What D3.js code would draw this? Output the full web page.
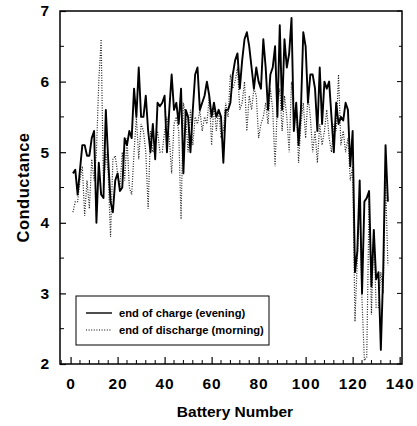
<!DOCTYPE html>
<html>
<head>
<meta charset="utf-8">
<script src="https://cdn.jsdelivr.net/npm/d3@7"></script>
<style>
  body { margin: 0; background: #fff; }
  text { font-family: "Liberation Sans", Arial, sans-serif; font-weight: bold; fill: #000; }
</style>
</head>
<body>
<div id="chart"></div>
<script>
// battery numbers 1..135
var batteries = d3.range(1, 136);

// end of charge (evening)
var chargeValues = [
  4.7, 4.75, 4.4, 4.75, 5.1, 5.1, 4.95, 4.95, 5.2, 5.3,
  4.0, 4.85, 4.4, 4.35, 5.6, 4.9, 4.3, 4.15, 4.6, 4.7,
  4.45, 4.5, 5.2, 5.1, 5.3, 5.2, 5.9, 5.5, 6.2, 5.5,
  5.5, 5.8, 5.3, 5.0, 5.4, 4.9, 5.7, 5.65, 5.7, 5.8,
  5.0, 5.6, 6.1, 5.6, 5.7, 5.4, 5.9, 4.7, 5.6, 5.5,
  5.0, 5.6, 6.1, 6.2, 5.6, 5.7, 5.8, 6.0, 5.8, 5.5,
  5.7, 5.5, 5.6, 5.5, 4.85, 5.6, 5.6, 5.7, 6.1, 6.3,
  6.4, 5.9, 6.3, 6.6, 6.7, 6.5, 6.2, 5.9, 6.2, 6.0,
  5.9, 6.6, 6.2, 5.6, 6.1, 6.2, 6.5, 5.5, 6.8, 5.6,
  6.6, 6.2, 6.4, 6.9, 5.3, 5.7, 5.1, 5.6, 6.7, 6.5,
  5.7, 6.1, 6.1, 5.9, 5.3, 6.2, 5.4, 6.0, 5.9, 6.0,
  5.5, 5.0, 5.7, 5.4, 5.5, 5.45, 5.7, 5.6, 4.8, 5.3,
  3.3, 3.6, 4.6, 3.0, 4.3, 4.35, 4.45, 3.1, 3.9, 3.2,
  3.3, 2.2, 3.3, 5.1, 4.3
];

// end of discharge (morning)
var dischargeValues = [
  4.15, 4.3, 4.3, 4.6, 4.8, 4.1, 4.6, 4.2, 4.9, 4.6,
  5.0, 6.0, 6.6, 4.5, 5.0, 4.7, 3.8, 4.9, 4.95, 4.7,
  4.5, 5.0, 4.6, 5.2, 4.5, 4.4, 5.0, 5.5, 4.9, 5.4,
  5.3, 5.0, 4.2, 5.3, 5.0, 5.1, 5.3, 5.0, 5.0, 5.3,
  5.5, 5.2, 4.7, 5.4, 5.5, 5.3, 4.05, 5.7, 5.5, 5.0,
  5.6, 5.1, 5.5, 5.4, 5.6, 5.3, 5.5, 5.4, 5.8, 5.1,
  5.7, 5.3, 5.6, 5.2, 5.3, 5.7, 5.5, 6.1, 5.9, 6.0,
  6.2, 5.6, 5.7, 6.0, 5.3, 5.8, 5.6, 5.9, 5.8, 5.2,
  5.4, 5.5, 5.7, 5.4, 5.9, 5.6, 4.8, 5.7, 5.9, 5.3,
  5.8, 5.5, 5.0, 6.0, 5.5, 5.7, 4.85, 5.4, 5.7, 5.2,
  5.8, 5.5, 5.0, 5.3, 4.85, 5.4, 5.1, 5.3, 5.6, 5.2,
  5.0, 5.4, 5.3, 6.1, 5.1, 5.3, 5.0, 5.2, 4.6, 4.8,
  2.6, 3.5, 4.3, 2.9, 2.05, 2.1, 4.35, 2.7, 3.9, 2.8,
  2.8, 3.3, 3.0, 4.6, 3.4
];

var xTickLabels = [0, 20, 40, 60, 80, 100, 120, 140];
var yTickLabels = [2, 3, 4, 5, 6, 7];
var legendLabels = ["end of charge (evening)", "end of discharge (morning)"];

var width = 417, height = 426;
var margin = {top: 11, right: 15, bottom: 62, left: 60};

var svg = d3.select("#chart").append("svg")
    .attr("width", width)
    .attr("height", height);

var x = d3.scaleLinear().domain([-4.5, 141]).range([margin.left, width - margin.right]);
var y = d3.scaleLinear().domain([2, 7]).range([height - margin.bottom, margin.top]);

// ticks (inside)
var xMinor = d3.range(-4, 141, 4);
var yMinor = d3.range(2.5, 7, 1);

var xAxis = d3.axisBottom(x).tickValues(xTickLabels).tickSize(-7).tickPadding(14).tickFormat(d3.format("d"));
var gx = svg.append("g").attr("transform", "translate(0," + y(2) + ")").call(xAxis);
gx.select(".domain").remove();
gx.selectAll("text").style("font-size", "15.5px").style("letter-spacing", "1px")
  .style("font-family", "Liberation Sans, Arial, sans-serif").style("font-weight", "bold");
gx.selectAll("line").attr("stroke-width", 1.2);

svg.append("g").selectAll("line").data(xMinor.filter(d => xTickLabels.indexOf(d) < 0))
  .enter().append("line")
    .attr("x1", d => x(d)).attr("x2", d => x(d))
    .attr("y1", y(2)).attr("y2", y(2) - 4)
    .attr("stroke", "#000").attr("stroke-width", 1);

var yAxis = d3.axisLeft(y).tickValues(yTickLabels).tickSize(-6).tickPadding(11).tickFormat(d3.format("d"));
var gy = svg.append("g").attr("transform", "translate(" + x(-4.5) + ",0)").call(yAxis);
gy.select(".domain").remove();
gy.selectAll("text").style("font-size", "15.5px")
  .style("font-family", "Liberation Sans, Arial, sans-serif").style("font-weight", "bold");
gy.selectAll("line").attr("stroke-width", 1.2);

svg.append("g").selectAll("line").data(yMinor)
  .enter().append("line")
    .attr("x1", x(-4.5)).attr("x2", x(-4.5) + 4)
    .attr("y1", d => y(d)).attr("y2", d => y(d))
    .attr("stroke", "#000").attr("stroke-width", 1);

// right side mirrored ticks
svg.append("g").selectAll("line").data(yTickLabels.concat(yMinor))
  .enter().append("line")
    .attr("x1", x(141)).attr("x2", d => x(141) - (Number.isInteger(d) ? 5 : 3))
    .attr("y1", d => y(d)).attr("y2", d => y(d))
    .attr("stroke", "#000").attr("stroke-width", 1);

// frame
svg.append("rect")
    .attr("x", x(-4.5)).attr("y", y(7))
    .attr("width", x(141) - x(-4.5)).attr("height", y(2) - y(7))
    .attr("fill", "none").attr("stroke", "#000").attr("stroke-width", 1.5);

var line = d3.line().x((d, i) => x(batteries[i])).y(d => y(d));

svg.append("path").datum(dischargeValues)
    .attr("d", line)
    .attr("fill", "none").attr("stroke", "#222").attr("stroke-width", 1.2)
    .attr("stroke-dasharray", "1,1.5");

svg.append("path").datum(chargeValues)
    .attr("d", line)
    .attr("fill", "none").attr("stroke", "#000").attr("stroke-width", 1.9)
    .attr("stroke-linejoin", "round");

// axis titles
svg.append("text")
    .attr("x", (x(-4.5) + x(141)) / 2 + 4).attr("y", 417)
    .attr("text-anchor", "middle").style("font-size", "15.5px")
    .text("Battery Number");

svg.append("text")
    .attr("transform", "translate(29," + ((y(2) + y(7)) / 2) + ") rotate(-90)")
    .attr("text-anchor", "middle").style("font-size", "16.5px").style("letter-spacing", "0.5px")
    .text("Conductance");

// legend
var lg = svg.append("g");
lg.append("rect")
    .attr("x", 76).attr("y", 296).attr("width", 193).attr("height", 49)
    .attr("fill", "#fff").attr("stroke", "#000").attr("stroke-width", 1);
legendLabels.forEach(function(lab, i) {
  var ly = 313 + i * 17;
  lg.append("line")
    .attr("x1", 86).attr("x2", 112).attr("y1", ly).attr("y2", ly)
    .attr("stroke", "#000")
    .attr("stroke-width", i === 0 ? 1.4 : 1)
    .attr("stroke-dasharray", i === 0 ? null : "1,1.6");
  lg.append("text")
    .attr("x", 119).attr("y", ly + 4)
    .style("font-size", "11.2px")
    .text(lab);
});
</script>
</body>
</html>
